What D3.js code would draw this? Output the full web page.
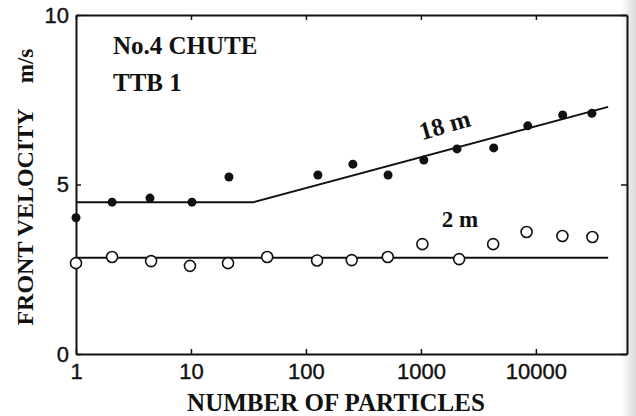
<!DOCTYPE html>
<html>
<head>
<meta charset="utf-8">
<script src="https://cdn.jsdelivr.net/npm/d3@7"></script>
<style>
  body { margin: 0; background: #fff; }
  svg { display: block; }
</style>
</head>
<body>
<div id="chart"></div>
<script>
// filled dots: 18 m run
var n18 = [1, 2.06, 4.4, 10.2, 21.4, 127, 256, 518, 1060, 2060, 4300, 8500, 17100, 30700];
var v18 = [4.02, 4.48, 4.6, 4.48, 5.22, 5.28, 5.6, 5.28, 5.72, 6.05, 6.08, 6.73, 7.05, 7.1];
// open circles: 2 m run
var n2 = [1, 2.06, 4.5, 9.8, 21, 46, 125, 250, 515, 1030, 2150, 4250, 8300, 17000, 31000];
var v2 = [2.68, 2.86, 2.74, 2.6, 2.68, 2.86, 2.76, 2.77, 2.86, 3.24, 2.8, 3.24, 3.6, 3.48, 3.45];
// fitted lines
var fit18 = [[1, 4.48], [35, 4.48], [42500, 7.29]];
var fit2 = [[1, 2.84], [42500, 2.84]];
var xTicks = [1, 10, 100, 1000, 10000];
var yTicks = [0, 5, 10];

var W = 636, H = 416;
var svg = d3.select("#chart").append("svg")
            .attr("width", W)
            .attr("height", H);

// scan shading on the right edge
var grad = svg.append("defs").append("linearGradient")
   .attr("id", "edge").attr("x1", 0).attr("x2", 1);
grad.append("stop").attr("offset", 0).attr("stop-color", "#fff");
grad.append("stop").attr("offset", 1).attr("stop-color", "#d8d8d8");
svg.append("rect")
   .attr("x", 622).attr("y", 0).attr("width", 14).attr("height", H)
   .attr("fill", "url(#edge)");

var x = d3.scaleLog().domain([1, 62000]).range([76, 627]);
var y = d3.scaleLinear().domain([0, 10]).range([354, 15]);

var tickFont = "'Liberation Sans', Arial, sans-serif";
var titleFont = "'Liberation Serif', 'Times New Roman', serif";

function styleAxis(g) {
  g.select(".domain").attr("stroke", "#111").attr("stroke-width", 2);
  g.selectAll(".tick line").attr("stroke", "#111").attr("stroke-width", 1.5);
  g.selectAll(".tick text")
   .attr("font-family", tickFont)
   .attr("font-size", "22px")
   .attr("fill", "#111")
   .attr("stroke", "#111")
   .attr("stroke-width", 0.4);
}

svg.append("g")
   .attr("transform", "translate(0," + y(0) + ")")
   .call(d3.axisBottom(x).tickValues(xTicks).tickFormat(d3.format("d"))
           .tickSizeInner(-5).tickSizeOuter(0).tickPadding(9))
   .call(styleAxis);

svg.append("g")
   .attr("transform", "translate(0," + y(10) + ")")
   .call(d3.axisTop(x).tickValues(xTicks).tickFormat("")
           .tickSizeInner(-5).tickSizeOuter(0))
   .call(styleAxis);

svg.append("g")
   .attr("transform", "translate(" + x.range()[0] + ",0)")
   .call(d3.axisLeft(y).tickValues(yTicks)
           .tickSizeInner(-5).tickSizeOuter(0).tickPadding(7))
   .call(styleAxis);

svg.append("g")
   .attr("transform", "translate(" + x.range()[1] + ",0)")
   .call(d3.axisRight(y).tickValues(yTicks).tickFormat("")
           .tickSizeInner(-6).tickSizeOuter(0))
   .call(styleAxis);

// fit lines
var line = d3.line()
   .x(function(d) { return x(d[0]); })
   .y(function(d) { return y(d[1]); });

[fit18, fit2].forEach(function(f) {
  svg.append("path")
     .attr("d", line(f))
     .attr("fill", "none")
     .attr("stroke", "#111")
     .attr("stroke-width", 2);
});

// 2 m open circles
svg.selectAll("circle.open")
   .data(d3.zip(n2, v2))
   .enter()
   .append("circle")
   .attr("class", "open")
   .attr("cx", function(d) { return x(d[0]); })
   .attr("cy", function(d) { return y(d[1]); })
   .attr("r", 5.5)
   .attr("fill", "#fff")
   .attr("stroke", "#111")
   .attr("stroke-width", 1.6);

// 18 m filled dots
svg.selectAll("circle.filled")
   .data(d3.zip(n18, v18))
   .enter()
   .append("circle")
   .attr("class", "filled")
   .attr("cx", function(d) { return x(d[0]); })
   .attr("cy", function(d) { return y(d[1]); })
   .attr("r", 4.5)
   .attr("fill", "#111");

// text labels
function label(txt, px, py, size, anchor, rot) {
  var t = svg.append("text")
     .text(txt)
     .attr("x", px)
     .attr("y", py)
     .attr("font-family", titleFont)
     .attr("font-weight", "bold")
     .attr("font-size", size + "px")
     .attr("fill", "#111")
     .attr("text-anchor", anchor || "start");
  if (rot) t.attr("transform", "rotate(" + rot + "," + px + "," + py + ")");
  return t;
}

label("No.4 CHUTE", 113, 54, 25);
label("TTB 1", 113, 91, 25);
label("18 m", 447, 133, 25, "middle", -16);
label("2 m", 460, 227, 23, "middle");
label("NUMBER OF PARTICLES", 336, 411, 25, "middle");
label("FRONT VELOCITY", 33, 217, 24, "middle", -90);
label("m/s", 33, 66, 23, "middle", -90);
</script>
</body>
</html>
